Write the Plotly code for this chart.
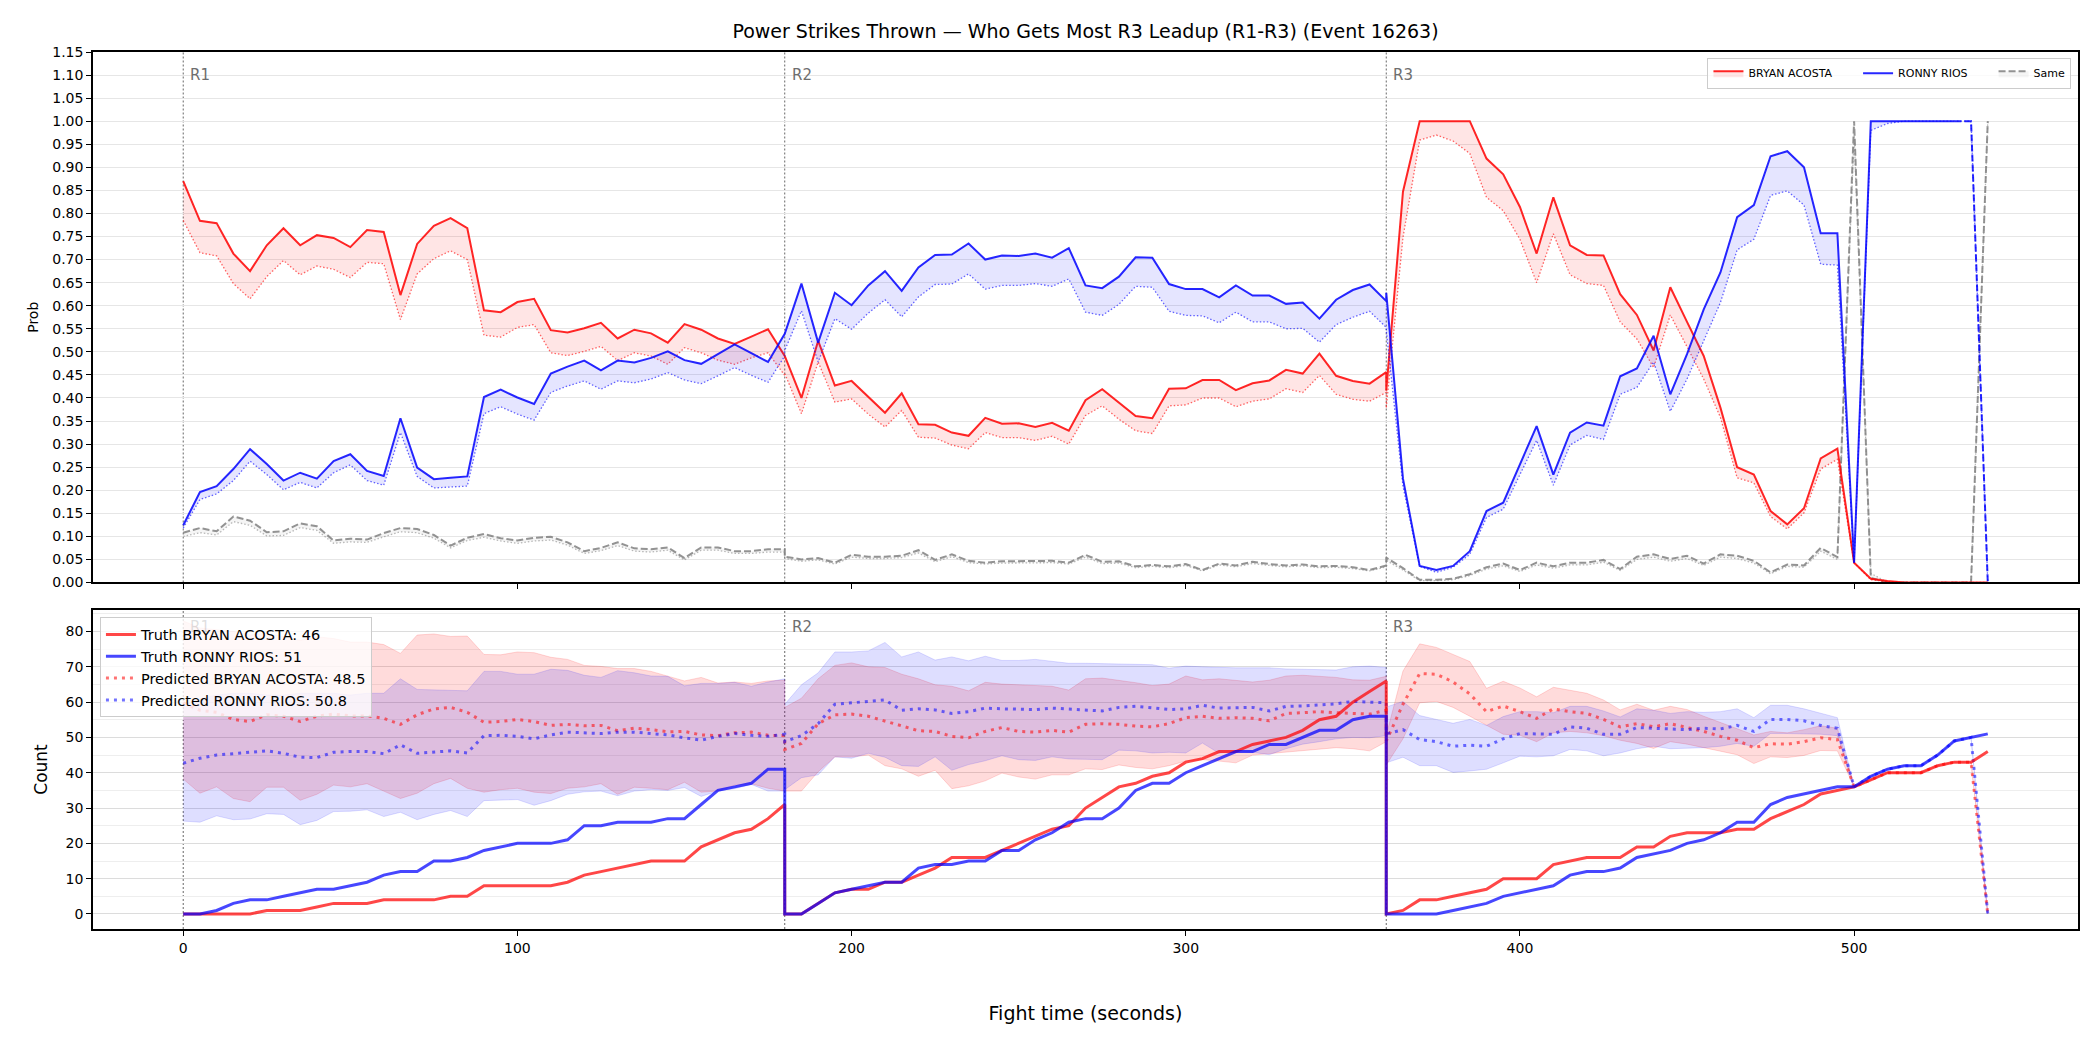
import plotly.graph_objects as go

# ---------------- time grid (5 s steps, each round restarts at its boundary) ----------------
t_r1 = list(range(0, 181, 5))
t_r2 = list(range(180, 361, 5))
t_r3 = list(range(360, 541, 5))
T = t_r1 + t_r2 + t_r3

# ---------------- TOP PANEL: win probability ----------------
acosta_prob_r1 = [0.870, 0.784, 0.779, 0.713, 0.675, 0.731, 0.768, 0.731, 0.753, 0.747, 0.727, 0.764, 0.760,
                  0.623, 0.734, 0.773, 0.790, 0.768, 0.590, 0.586, 0.608, 0.615, 0.547, 0.542, 0.551, 0.563,
                  0.529, 0.548, 0.540, 0.520, 0.560, 0.548, 0.529, 0.517, 0.533, 0.549, 0.491]
acosta_prob_r2 = [0.491, 0.400, 0.524, 0.427, 0.437, 0.402, 0.368, 0.410, 0.343, 0.342, 0.325, 0.318, 0.357,
                  0.344, 0.345, 0.337, 0.346, 0.329, 0.395, 0.419, 0.391, 0.361, 0.356, 0.420, 0.421, 0.439,
                  0.439, 0.417, 0.432, 0.438, 0.461, 0.453, 0.496, 0.448, 0.437, 0.431, 0.456]
acosta_prob_r3 = [0.416, 0.847, 1.000, 1.000, 1.000, 1.000, 0.919, 0.885, 0.814, 0.713, 0.835, 0.731, 0.710,
                  0.709, 0.625, 0.580, 0.503, 0.640, 0.565, 0.491, 0.379, 0.250, 0.234, 0.155, 0.126, 0.161,
                  0.269, 0.290, 0.043, 0.008, 0.003, 0.0, 0.0, 0.0, 0.0, 0.0, 0.0]

acosta_pred_r1 = [0.785, 0.715, 0.708, 0.648, 0.615, 0.663, 0.698, 0.667, 0.686, 0.679, 0.661, 0.694, 0.691,
                  0.570, 0.669, 0.702, 0.719, 0.700, 0.536, 0.532, 0.553, 0.559, 0.498, 0.492, 0.501, 0.512,
                  0.481, 0.498, 0.491, 0.473, 0.509, 0.498, 0.482, 0.473, 0.487, 0.498, 0.449]
acosta_pred_r2 = [0.453, 0.366, 0.478, 0.391, 0.398, 0.365, 0.337, 0.373, 0.315, 0.313, 0.298, 0.290, 0.325,
                  0.314, 0.314, 0.308, 0.317, 0.300, 0.362, 0.383, 0.354, 0.329, 0.323, 0.383, 0.385, 0.400,
                  0.400, 0.381, 0.393, 0.398, 0.420, 0.412, 0.449, 0.408, 0.397, 0.393, 0.412]
acosta_pred_r3 = [0.378, 0.748, 0.959, 0.970, 0.957, 0.930, 0.835, 0.806, 0.744, 0.650, 0.756, 0.667, 0.648,
                  0.644, 0.565, 0.528, 0.466, 0.580, 0.511, 0.441, 0.358, 0.227, 0.216, 0.143, 0.116, 0.151,
                  0.246, 0.267, 0.043, 0.006, 0.002, 0.0, 0.0, 0.0, 0.0, 0.0, 0.0]

rios_prob_r1 = [0.124, 0.196, 0.209, 0.246, 0.289, 0.257, 0.221, 0.238, 0.225, 0.263, 0.278, 0.242, 0.231,
                0.356, 0.249, 0.224, 0.227, 0.230, 0.402, 0.418, 0.401, 0.387, 0.453, 0.468, 0.481, 0.460,
                0.481, 0.477, 0.487, 0.501, 0.482, 0.474, 0.495, 0.516, 0.497, 0.478, 0.539]
rios_prob_r2 = [0.539, 0.648, 0.520, 0.628, 0.601, 0.644, 0.675, 0.632, 0.683, 0.710, 0.711, 0.735, 0.700,
                0.709, 0.708, 0.713, 0.704, 0.725, 0.644, 0.638, 0.663, 0.705, 0.704, 0.647, 0.636, 0.636,
                0.618, 0.644, 0.622, 0.622, 0.604, 0.607, 0.572, 0.613, 0.634, 0.646, 0.610]
rios_prob_r3 = [0.628, 0.225, 0.036, 0.027, 0.036, 0.068, 0.155, 0.173, 0.255, 0.339, 0.234, 0.325, 0.347,
                0.340, 0.447, 0.464, 0.535, 0.408, 0.495, 0.592, 0.672, 0.792, 0.818, 0.924, 0.935, 0.900,
                0.757, 0.757, 0.043, 1.0, 1.0, 1.0, 1.0, 1.0, 1.0, 1.0, 0.0]

rios_pred_r1 = [0.118, 0.180, 0.192, 0.221, 0.263, 0.234, 0.201, 0.217, 0.205, 0.238, 0.255, 0.221, 0.211,
                0.325, 0.230, 0.205, 0.207, 0.209, 0.366, 0.381, 0.365, 0.352, 0.412, 0.426, 0.437, 0.419,
                0.437, 0.433, 0.441, 0.455, 0.439, 0.431, 0.448, 0.466, 0.449, 0.434, 0.491]
rios_pred_r2 = [0.503, 0.589, 0.478, 0.572, 0.549, 0.584, 0.613, 0.576, 0.619, 0.646, 0.647, 0.669, 0.636,
                0.644, 0.644, 0.648, 0.642, 0.658, 0.586, 0.579, 0.603, 0.642, 0.640, 0.588, 0.579, 0.578,
                0.563, 0.586, 0.565, 0.565, 0.550, 0.551, 0.521, 0.559, 0.575, 0.588, 0.553]
rios_pred_r3 = [0.546, 0.209, 0.035, 0.022, 0.033, 0.061, 0.141, 0.159, 0.234, 0.308, 0.211, 0.298, 0.319,
                0.310, 0.408, 0.423, 0.478, 0.371, 0.441, 0.524, 0.607, 0.721, 0.744, 0.839, 0.849, 0.818,
                0.690, 0.688, 0.043, 0.980, 0.995, 1.0, 1.0, 1.0, 1.0, 1.0, 0.0]

same_prob_r1 = [0.108, 0.118, 0.111, 0.143, 0.134, 0.109, 0.111, 0.128, 0.122, 0.091, 0.095, 0.093, 0.107,
                0.118, 0.116, 0.103, 0.080, 0.097, 0.105, 0.096, 0.091, 0.097, 0.099, 0.087, 0.068, 0.075,
                0.087, 0.074, 0.072, 0.076, 0.053, 0.076, 0.076, 0.068, 0.068, 0.072, 0.072]
same_prob_r2 = [0.056, 0.050, 0.053, 0.043, 0.060, 0.056, 0.056, 0.058, 0.070, 0.049, 0.061, 0.047, 0.043,
                0.046, 0.046, 0.047, 0.047, 0.043, 0.060, 0.045, 0.046, 0.035, 0.038, 0.035, 0.040, 0.027,
                0.041, 0.037, 0.045, 0.040, 0.037, 0.039, 0.035, 0.036, 0.033, 0.027, 0.037]
same_prob_r3 = [0.054, 0.031, 0.006, 0.006, 0.008, 0.018, 0.033, 0.041, 0.027, 0.043, 0.035, 0.043, 0.043,
                0.049, 0.029, 0.056, 0.061, 0.051, 0.058, 0.041, 0.061, 0.058, 0.047, 0.022, 0.039, 0.037,
                0.075, 0.055, 1.0, 0.010, 0.0, 0.0, 0.0, 0.0, 0.0, 0.0, 1.0]

same_pred_r1 = [0.100, 0.108, 0.103, 0.132, 0.124, 0.101, 0.102, 0.119, 0.113, 0.085, 0.088, 0.087, 0.099,
                0.110, 0.108, 0.096, 0.075, 0.091, 0.098, 0.090, 0.085, 0.090, 0.092, 0.081, 0.063, 0.069,
                0.080, 0.068, 0.066, 0.070, 0.049, 0.070, 0.070, 0.063, 0.063, 0.066, 0.066]
same_pred_r2 = [0.052, 0.046, 0.049, 0.040, 0.055, 0.052, 0.052, 0.054, 0.064, 0.045, 0.056, 0.043, 0.040,
                0.042, 0.042, 0.043, 0.043, 0.040, 0.055, 0.041, 0.042, 0.032, 0.035, 0.032, 0.037, 0.025,
                0.038, 0.034, 0.041, 0.037, 0.034, 0.036, 0.032, 0.033, 0.030, 0.025, 0.034]
same_pred_r3 = [0.048, 0.027, 0.004, 0.004, 0.006, 0.015, 0.029, 0.036, 0.024, 0.038, 0.031, 0.038, 0.038,
                0.044, 0.026, 0.050, 0.055, 0.046, 0.052, 0.037, 0.055, 0.052, 0.042, 0.019, 0.035, 0.033,
                0.068, 0.050, 0.970, 0.020, 0.0, 0.0, 0.0, 0.0, 0.0, 0.0, 1.0]

# ---------------- BOTTOM PANEL: cumulative counts ----------------
acosta_truth_r1 = [0, 0, 0, 0, 0, 1, 1, 1, 2, 3, 3, 3, 4, 4, 4, 4, 5, 5, 8, 8, 8, 8, 8, 9, 11, 12, 13, 14, 15,
                   15, 15, 19, 21, 23, 24, 27, 31]
acosta_truth_r2 = [0, 0, 3, 6, 7, 7, 9, 9, 11, 13, 16, 16, 16, 18, 20, 22, 24, 25, 30, 33, 36, 37, 39, 40, 43,
                   44, 46, 46, 48, 49, 50, 52, 55, 56, 60, 63, 66]
acosta_truth_r3 = [0, 1, 4, 4, 5, 6, 7, 10, 10, 10, 14, 15, 16, 16, 16, 19, 19, 22, 23, 23, 23, 24, 24, 27, 29,
                   31, 34, 35, 36, 38, 40, 40, 40, 42, 43, 43, 46]
rios_truth_r1 = [0, 0, 1, 3, 4, 4, 5, 6, 7, 7, 8, 9, 11, 12, 12, 15, 15, 16, 18, 19, 20, 20, 20, 21, 25, 25,
                 26, 26, 26, 27, 27, 31, 35, 36, 37, 41, 41]
rios_truth_r2 = [0, 0, 3, 6, 7, 8, 9, 9, 13, 14, 14, 15, 15, 18, 18, 21, 23, 26, 27, 27, 30, 35, 37, 37, 40,
                 42, 44, 46, 46, 48, 48, 50, 52, 52, 55, 56, 56]
rios_truth_r3 = [0, 0, 0, 0, 1, 2, 3, 5, 6, 7, 8, 11, 12, 12, 13, 16, 17, 18, 20, 21, 23, 26, 26, 31, 33, 34,
                 35, 36, 36, 39, 41, 42, 42, 45, 49, 50, 51]

acosta_cnt_pred_r1 = [59.8, 57.7, 57.1, 55.1, 54.5, 56.4, 56.0, 54.5, 56.0, 56.6, 56.1, 56.1, 55.4, 53.7, 56.4,
                      58.1, 58.5, 57.1, 54.3, 54.5, 55.1, 54.5, 53.4, 53.7, 53.3, 53.4, 51.9, 52.6, 52.2, 51.6,
                      51.7, 50.7, 50.5, 51.3, 51.5, 50.6, 50.5]
acosta_cnt_pred_r2 = [46.6, 48.3, 53.9, 56.4, 56.6, 56.0, 54.7, 53.3, 51.9, 51.7, 50.3, 49.9, 51.7, 52.8, 51.7,
                      51.5, 52.0, 51.5, 53.7, 53.9, 53.7, 53.2, 53.0, 53.9, 55.6, 56.0, 55.4, 55.6, 55.4, 54.7,
                      56.8, 57.0, 57.3, 57.0, 56.8, 56.6, 57.7]
acosta_cnt_pred_r3 = [49.0, 59.4, 68.1, 67.9, 65.7, 62.3, 57.3, 58.9, 57.3, 55.4, 58.1, 57.3, 56.8, 55.1, 53.0,
                      53.9, 53.0, 53.9, 52.8, 51.7, 50.3, 49.2, 47.1, 48.2, 48.1, 48.8, 49.9, 49.4, 36, 38, 40,
                      40, 40, 42, 43, 43, 0]
rios_cnt_pred_r1 = [42.7, 44.1, 45.0, 45.4, 46.0, 46.2, 45.5, 44.4, 44.3, 45.8, 46.0, 46.0, 45.4, 47.9, 45.5,
                    45.8, 46.2, 45.6, 50.5, 50.6, 50.3, 49.6, 50.7, 51.5, 51.3, 51.1, 51.5, 51.5, 51.1, 50.7,
                    49.9, 49.2, 50.3, 51.1, 50.6, 50.3, 50.9]
rios_cnt_pred_r2 = [48.8, 50.5, 53.9, 59.4, 59.8, 60.4, 60.6, 57.7, 58.1, 57.8, 56.8, 57.3, 58.3, 58.1, 57.9,
                    57.9, 58.3, 58.1, 57.7, 57.5, 58.5, 58.8, 58.4, 57.9, 58.1, 59.1, 58.3, 58.5, 58.5, 57.5,
                    58.8, 58.9, 59.1, 59.5, 60.2, 60.0, 59.8]
rios_cnt_pred_r3 = [51.0, 52.2, 49.4, 48.8, 47.5, 47.8, 47.5, 49.6, 51.1, 50.9, 50.9, 53.0, 52.6, 50.9, 50.9,
                    52.8, 52.6, 52.2, 52.2, 52.6, 52.4, 53.4, 51.7, 55.1, 55.1, 54.7, 53.4, 52.6, 36, 39, 41,
                    42, 42, 45, 49, 50, 0]

acosta_hi_r1 = [83, 81, 80.5, 80, 79, 79.5, 78.5, 77.5, 78.5, 78, 77, 77, 76.3, 73.8, 79, 79.3, 78.6, 78.7,
                73.5, 73.4, 74.2, 74.0, 72.7, 72.1, 70.4, 70.1, 69.5, 69.5, 68.7, 67.4, 66.0, 67.0, 65.4,
                65.7, 65.3, 66.0, 66.2]
acosta_lo_r1 = [38.2, 34.2, 36.0, 32.7, 31.8, 35.9, 35.9, 32.2, 33.9, 36.5, 36.0, 36.9, 34.8, 32.7, 34.2,
                36.9, 38.4, 35.6, 34.5, 35.2, 35.6, 34.5, 34.1, 35.6, 36.0, 36.9, 33.9, 35.9, 35.6, 35.2,
                37.3, 34.5, 34.8, 36.5, 36.9, 35.6, 34.8]
rios_hi_r1 = [59, 61, 62, 62.5, 62.5, 62, 62, 62.5, 62.5, 62.5, 62, 62.5, 62.5, 66.6, 63.6, 63.4, 63.2, 63.2,
              68.7, 68.7, 67.9, 67.9, 69.3, 69.0, 67.6, 67.0, 68.9, 68.3, 67.4, 67.3, 64.6, 65.3, 65.3,
              65.6, 64.5, 65.7, 66.6]
rios_lo_r1 = [26.3, 26.0, 27.8, 26.7, 26.9, 28.4, 28.2, 25.3, 26.5, 29.0, 29.1, 29.5, 27.6, 28.8, 26.7, 28.2,
              29.3, 27.6, 32.1, 32.2, 32.4, 30.8, 32.1, 33.9, 34.6, 34.8, 33.5, 34.8, 35.2, 35.0, 35.8, 33.3,
              34.8, 35.5, 36.7, 34.8, 34.8]
acosta_hi_r2 = [58.5, 61.1, 66.6, 70.4, 71.1, 70.0, 69.8, 67.9, 66.6, 64.9, 64.5, 63.2, 65.6, 65.1, 64.9,
                64.7, 64.5, 63.4, 66.6, 66.8, 66.2, 65.5, 64.7, 65.1, 67.4, 66.3, 66.6, 66.2, 65.7, 66.2,
                67.4, 67.6, 67.3, 67.0, 66.3, 66.2, 67.3]
acosta_lo_r2 = [34.8, 34.8, 40.3, 44.5, 44.5, 45.0, 42.0, 41.1, 39.0, 40.7, 35.5, 36.3, 37.7, 39.9, 38.8,
                38.2, 39.4, 39.4, 41.1, 40.9, 42.2, 41.5, 41.1, 42.0, 43.3, 43.7, 43.3, 42.8, 45.0, 45.4,
                46.0, 46.2, 46.7, 47.1, 46.8, 46.2, 48.8]
rios_hi_r2 = [59.4, 64.9, 68.3, 74.2, 74.2, 74.5, 76.9, 72.8, 74.2, 71.9, 72.8, 71.7, 73.0, 71.8, 71.8, 72.1,
              71.5, 71.0, 71.0, 71.0, 70.8, 70.7, 70.6, 69.6, 70.2, 70.0, 69.8, 69.7, 69.7, 69.7, 69.4, 69.3,
              69.3, 69.1, 70.0, 70.2, 69.8]
rios_lo_r2 = [35.2, 38.6, 39.4, 44.5, 44.1, 45.5, 44.4, 42.0, 41.8, 44.5, 40.7, 42.3, 43.4, 44.8, 43.7, 43.5,
              44.5, 43.9, 43.8, 43.7, 46.4, 46.2, 45.6, 45.8, 45.6, 48.4, 45.5, 46.2, 45.8, 45.1, 46.8, 48.1,
              48.8, 49.6, 50.0, 49.9, 50.5]
acosta_hi_r3 = [50.6, 68.8, 76.5, 75.5, 73.4, 71.5, 63.9, 65.9, 64.0, 61.5, 64.2, 63.4, 62.5, 60.6, 57.8,
                59.4, 57.7, 58.8, 57.9, 56.0, 54.3, 52.6, 50.7, 51.7, 51.3, 52.2, 53.3, 52.6, 36, 38, 40, 40,
                40, 42, 43, 43, 0]
acosta_lo_r3 = [42.2, 49.6, 59.8, 60.2, 58.5, 56.0, 53.4, 50.9, 50.6, 48.8, 51.3, 51.7, 51.3, 50.5, 49.2,
                48.3, 46.9, 48.8, 48.1, 47.1, 46.2, 45.1, 42.6, 44.5, 44.3, 44.9, 46.3, 46.2, 36, 38, 40, 40,
                40, 42, 43, 43, 0]
rios_hi_r3 = [58.6, 60.2, 56.2, 55.1, 54.0, 55.1, 53.4, 55.9, 57.3, 57.3, 57.0, 58.8, 58.8, 57.5, 55.8, 58.1,
              57.7, 56.8, 57.3, 57.1, 57.3, 58.1, 55.6, 59.1, 59.1, 58.1, 56.8, 55.6, 36, 39, 41, 42, 42, 45,
              49, 50, 0]
rios_lo_r3 = [42.8, 44.4, 42.0, 42.0, 40.1, 40.5, 41.0, 42.8, 44.7, 44.5, 44.8, 46.6, 46.2, 44.8, 45.6, 46.8,
              47.5, 46.8, 46.9, 47.1, 47.5, 48.3, 47.5, 51.1, 51.1, 51.1, 50.9, 50.5, 36, 39, 41, 42, 42, 45,
              49, 50, 0]

round_starts = [0, 180, 360]
round_names = ["R1", "R2", "R3"]
legend_names_top = ["BRYAN ACOSTA", "RONNY RIOS", "Same"]
legend_names_bottom = ["Truth BRYAN ACOSTA: 46", "Truth RONNY RIOS: 51",
                       "Predicted BRYAN ACOSTA: 48.5", "Predicted RONNY RIOS: 50.8"]
title_text = "Power Strikes Thrown — Who Gets Most R3 Leadup (R1-R3) (Event 16263)"

# ---------------- build ----------------
def cat(a, b, c):
    return list(a) + list(b) + list(c)

A_p = cat(acosta_prob_r1, acosta_prob_r2, acosta_prob_r3)
A_pp = cat(acosta_pred_r1, acosta_pred_r2, acosta_pred_r3)
R_p = cat(rios_prob_r1, rios_prob_r2, rios_prob_r3)
R_pp = cat(rios_pred_r1, rios_pred_r2, rios_pred_r3)
S_p = cat(same_prob_r1, same_prob_r2, same_prob_r3)
S_pp = cat(same_pred_r1, same_pred_r2, same_pred_r3)

A_t = cat(acosta_truth_r1, acosta_truth_r2, acosta_truth_r3)
R_t = cat(rios_truth_r1, rios_truth_r2, rios_truth_r3)
A_c = cat(acosta_cnt_pred_r1, acosta_cnt_pred_r2, acosta_cnt_pred_r3)
R_c = cat(rios_cnt_pred_r1, rios_cnt_pred_r2, rios_cnt_pred_r3)
A_hi = cat(acosta_hi_r1, acosta_hi_r2, acosta_hi_r3)
A_lo = cat(acosta_lo_r1, acosta_lo_r2, acosta_lo_r3)
R_hi = cat(rios_hi_r1, rios_hi_r2, rios_hi_r3)
R_lo = cat(rios_lo_r1, rios_lo_r2, rios_lo_r3)

RED = "rgba(255,0,0,0.85)"
BLUE = "rgba(0,0,255,0.85)"
GRAY = "rgba(128,128,128,0.85)"
FONT = "DejaVu Sans"
PAD = "\u00a0" * 6   # spacing between horizontal legend entries

fig = go.Figure()

# top: gray
fig.add_trace(go.Scatter(x=T, y=S_pp, mode="lines", line=dict(color="rgba(128,128,128,0.55)", width=1.3, dash="1.5px,2px"),
                         showlegend=False, hoverinfo="skip", xaxis="x", yaxis="y"))
fig.add_trace(go.Scatter(x=T, y=S_p, mode="lines", line=dict(color=GRAY, width=2, dash="7px,3px"),
                         fill="tonexty", fillcolor="rgba(128,128,128,0.08)",
                         name=legend_names_top[2], legend="legend", legendrank=3, xaxis="x", yaxis="y"))
# top: red
fig.add_trace(go.Scatter(x=T, y=A_pp, mode="lines", line=dict(color="rgba(255,0,0,0.6)", width=1.3, dash="1.5px,2px"),
                         showlegend=False, hoverinfo="skip", xaxis="x", yaxis="y"))
fig.add_trace(go.Scatter(x=T, y=A_p, mode="lines", line=dict(color=RED, width=2),
                         fill="tonexty", fillcolor="rgba(255,0,0,0.1)",
                         name=legend_names_top[0] + PAD, legend="legend", legendrank=1, xaxis="x", yaxis="y"))
# top: blue (fill from full series, line solid up to 530 s then dashed)
cut = len(t_r1) + len(t_r2) + t_r3.index(530)
fig.add_trace(go.Scatter(x=T, y=R_pp, mode="lines", line=dict(color="rgba(0,0,255,0.6)", width=1.3, dash="1.5px,2px"),
                         showlegend=False, hoverinfo="skip", xaxis="x", yaxis="y"))
fig.add_trace(go.Scatter(x=T, y=R_p, mode="lines", line=dict(color="rgba(0,0,255,0)", width=0),
                         fill="tonexty", fillcolor="rgba(0,0,255,0.1)",
                         showlegend=False, hoverinfo="skip", xaxis="x", yaxis="y"))
fig.add_trace(go.Scatter(x=T[:cut + 1], y=R_p[:cut + 1], mode="lines", line=dict(color=BLUE, width=2),
                         name=legend_names_top[1] + PAD, legend="legend", legendrank=2, xaxis="x", yaxis="y"))
fig.add_trace(go.Scatter(x=T[cut:], y=R_p[cut:], mode="lines", line=dict(color=BLUE, width=2, dash="7px,3px"),
                         showlegend=False, hoverinfo="skip", xaxis="x", yaxis="y"))

# bottom: bands
fig.add_trace(go.Scatter(x=T, y=A_lo, mode="lines", line=dict(color="rgba(255,0,0,0.15)", width=1),
                         showlegend=False, hoverinfo="skip", xaxis="x2", yaxis="y2"))
fig.add_trace(go.Scatter(x=T, y=A_hi, mode="lines", line=dict(color="rgba(255,0,0,0.15)", width=1),
                         fill="tonexty", fillcolor="rgba(255,0,0,0.14)",
                         showlegend=False, hoverinfo="skip", xaxis="x2", yaxis="y2"))
fig.add_trace(go.Scatter(x=T, y=R_lo, mode="lines", line=dict(color="rgba(0,0,255,0.13)", width=1),
                         showlegend=False, hoverinfo="skip", xaxis="x2", yaxis="y2"))
fig.add_trace(go.Scatter(x=T, y=R_hi, mode="lines", line=dict(color="rgba(0,0,255,0.13)", width=1),
                         fill="tonexty", fillcolor="rgba(0,0,255,0.13)",
                         showlegend=False, hoverinfo="skip", xaxis="x2", yaxis="y2"))
# bottom: predicted
fig.add_trace(go.Scatter(x=T, y=A_c, mode="lines", line=dict(color="rgba(255,0,0,0.55)", width=3, dash="3px,5px"),
                         name=legend_names_bottom[2], legend="legend2", legendrank=3, xaxis="x2", yaxis="y2"))
fig.add_trace(go.Scatter(x=T, y=R_c, mode="lines", line=dict(color="rgba(0,0,255,0.55)", width=3, dash="3px,5px"),
                         name=legend_names_bottom[3], legend="legend2", legendrank=4, xaxis="x2", yaxis="y2"))
# bottom: truth
fig.add_trace(go.Scatter(x=T, y=A_t, mode="lines", line=dict(color="rgba(255,0,0,0.72)", width=3),
                         name=legend_names_bottom[0], legend="legend2", legendrank=1, xaxis="x2", yaxis="y2"))
fig.add_trace(go.Scatter(x=T, y=R_t, mode="lines", line=dict(color="rgba(0,0,255,0.72)", width=3),
                         name=legend_names_bottom[1], legend="legend2", legendrank=2, xaxis="x2", yaxis="y2"))

shapes = []
annotations = []
for xs, nm in zip(round_starts, round_names):
    for xr, yr, ylab in (("x", "y", 1.10), ("x2", "y2", 81.4)):
        shapes.append(dict(type="line", xref=xr, yref=yr + " domain", x0=xs, x1=xs, y0=0, y1=1,
                           line=dict(color="rgba(0,0,0,0.6)", width=1, dash="2px,2px"), layer="below"))
        # the bottom-panel R1 label sits behind the semi-transparent legend in the reference -> faint
        col = "rgba(110,110,110,0.22)" if (xr == "x2" and xs == 0) else "#6e6e6e"
        annotations.append(dict(x=xs + 1.5, y=ylab, xref=xr, yref=yr, text=nm, showarrow=False,
                                xanchor="left", yanchor="middle",
                                font=dict(family=FONT, size=15, color=col)))

axis_common = dict(showline=True, linecolor="black", linewidth=1.6, mirror=True, ticks="outside",
                   tickcolor="black", ticklen=5, tickwidth=1.3, zeroline=False,
                   tickfont=dict(family=FONT, size=14, color="black"))
XR = [-27, 567]

fig.update_layout(
    width=2100, height=1050,
    margin=dict(l=93, r=22, t=52, b=121),
    paper_bgcolor="white", plot_bgcolor="white",
    font=dict(family=FONT, color="black"),
    title=dict(text=title_text, x=0.5, xref="paper", xanchor="center", y=1 - 31 / 1050, yanchor="middle",
               font=dict(family=FONT, size=19, color="black")),
    xaxis=dict(domain=[0, 1], anchor="y", range=XR, showgrid=False, showticklabels=False,
               tickvals=[0, 100, 200, 300, 400, 500], **axis_common),
    yaxis=dict(domain=[0.3951, 1], anchor="x", range=[0, 1.15], tick0=0, dtick=0.05, tickformat=".2f",
               showgrid=True, gridcolor="#e6e6e6", gridwidth=1,
               title=dict(text="Prob", font=dict(family=FONT, size=14), standoff=10), **axis_common),
    xaxis2=dict(domain=[0, 1], anchor="y2", range=XR, showgrid=False,
                tickvals=[0, 100, 200, 300, 400, 500],
                title=dict(text="Fight time (seconds)", font=dict(family=FONT, size=19), standoff=52),
                **axis_common),
    yaxis2=dict(domain=[0, 0.3638], anchor="x2", range=[-4.25, 86.1], tick0=0, dtick=10,
                showgrid=True, gridcolor="#dcdcdc", gridwidth=1,
                minor=dict(dtick=5, tick0=0, showgrid=True, gridcolor="#eeeeee", ticks=""),
                title=dict(text="Count", font=dict(family=FONT, size=17), standoff=14), **axis_common),
    legend=dict(orientation="h", x=0.9967, y=0.9935, xanchor="right", yanchor="top",
                bgcolor="rgba(255,255,255,0.8)", bordercolor="#cccccc", borderwidth=1,
                font=dict(family=FONT, size=11), traceorder="normal"),
    legend2=dict(orientation="v", x=0.0035, y=0.3552, xanchor="left", yanchor="top",
                 bgcolor="rgba(255,255,255,0.8)", bordercolor="#cccccc", borderwidth=1,
                 font=dict(family=FONT, size=14.5), traceorder="normal", tracegroupgap=0),
    shapes=shapes, annotations=annotations,
    showlegend=True,
)

fig.write_html("out.html")
